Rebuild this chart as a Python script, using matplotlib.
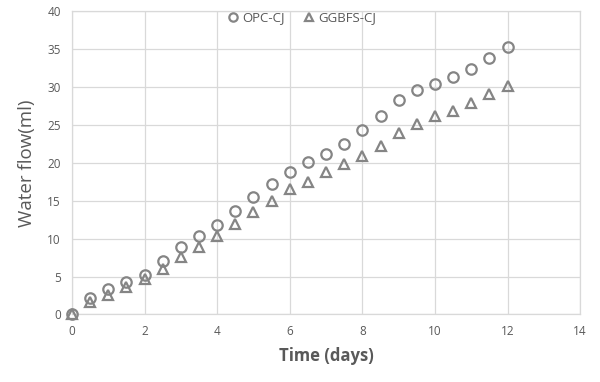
import matplotlib.pyplot as plt
import numpy as np

plt.rcParams['font.family'] = ['Open Sans', 'DejaVu Sans']

# time in days
days = [0, 0.5, 1, 1.5, 2, 2.5, 3, 3.5, 4, 4.5, 5, 5.5, 6,
        6.5, 7, 7.5, 8, 8.5, 9, 9.5, 10, 10.5, 11, 11.5, 12]

# water flow (ml)
opc_cj = [0, 2.1, 3.4, 4.3, 5.2, 7.0, 8.9, 10.4, 11.8, 13.6, 15.5, 17.2, 18.8,
          20.1, 21.2, 22.5, 24.3, 26.2, 28.3, 29.6, 30.4, 31.3, 32.4, 33.9, 35.3]
ggbfs_cj = [0, 1.6, 2.6, 3.6, 4.7, 6.0, 7.6, 8.9, 10.3, 11.9, 13.5, 15.0, 16.5,
            17.5, 18.8, 19.9, 20.9, 22.3, 23.9, 25.1, 26.2, 26.9, 27.9, 29.1, 30.2]

x_ticks = [0, 2, 4, 6, 8, 10, 12, 14]
y_ticks = [0, 5, 10, 15, 20, 25, 30, 35, 40]

grey = '#595959'
marker_grey = '#858585'
grid_grey = '#d9d9d9'

fig = plt.figure(figsize=(6, 3.82), dpi=100)
ax = fig.add_axes([0.12, 0.177, 0.847, 0.793])

ax.plot(days, opc_cj, linestyle='none', marker='o', markersize=7.5,
        markerfacecolor='none', markeredgecolor=marker_grey, markeredgewidth=1.6,
        label='OPC-CJ', clip_on=False, zorder=3)
ax.plot(days, ggbfs_cj, linestyle='none', marker='^', markersize=7,
        markerfacecolor='none', markeredgecolor=marker_grey, markeredgewidth=1.6,
        label='GGBFS-CJ', clip_on=False, zorder=3)

ax.set_xlim(0, 14)
ax.set_ylim(0, 40)
ax.set_xticks(x_ticks)
ax.set_yticks(y_ticks)
ax.grid(True, color=grid_grey, linewidth=0.9)
ax.set_axisbelow(True)
ax.tick_params(length=0, labelsize=8.5, labelcolor=grey, pad=8)

for s in ax.spines.values():
    s.set_color(grid_grey)
    s.set_linewidth(0.9)

ax.set_xlabel('Time (days)', fontsize=12, fontweight='bold', color=grey, labelpad=6)
ax.set_ylabel('Water flow(ml)', fontsize=13.5, color=grey, labelpad=8)

ax.legend(loc='upper center', bbox_to_anchor=(0.45, 1.04), ncol=2, frameon=False,
          fontsize=9.5, labelcolor=grey, handletextpad=0.1, columnspacing=1.3,
          markerscale=0.8, handlelength=1.2)

fig.savefig('out.png', dpi=100)
